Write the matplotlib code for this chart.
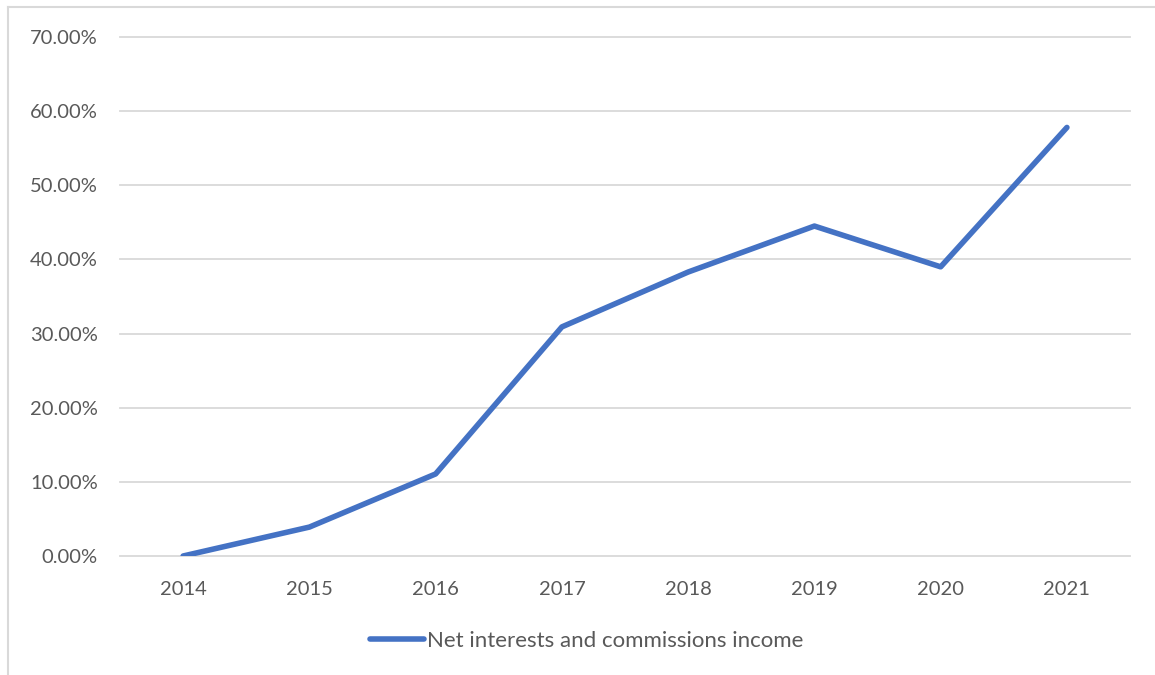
import matplotlib.pyplot as plt
from matplotlib.lines import Line2D
from matplotlib.ticker import FuncFormatter

years = ['2014', '2015', '2016', '2017', '2018', '2019', '2020', '2021']
income = [0.0, 3.9, 11.07, 30.9, 38.3, 44.5, 39.0, 57.8]
series_name = 'Net interests and commissions income'

plt.rcParams['font.family'] = ['Lato', 'DejaVu Sans']
txt = '#595959'
grid = '#d9d9d9'

fig = plt.figure(figsize=(11.55, 6.75), dpi=100)
ax = fig.add_axes([0.1039, 0.1763, 0.8745, 0.7689])

x = list(range(len(years)))
ax.plot(x, income, color='#4472C4', lw=4, solid_capstyle='round',
        solid_joinstyle='round', label=series_name, zorder=3)

ax.set_xlim(-0.5, len(years) - 0.5)
ax.set_ylim(0, 70)
ax.set_yticks(range(0, 71, 10))
ax.yaxis.set_major_formatter(FuncFormatter(lambda v, p: f'{v:.2f}%'))
ax.set_xticks(x)
ax.set_xticklabels(years)
ax.grid(axis='y', color=grid, lw=1.3)
for g in ax.get_ygridlines():
    g.set_clip_on(False)
ax.set_axisbelow(True)
for s in ax.spines.values():
    s.set_visible(False)
ax.tick_params(length=0, labelsize=14.5, colors=txt)
ax.tick_params(axis='y', pad=16)
ax.tick_params(axis='x', pad=18)

# legend
fig.legend(handles=[Line2D([], [], color='#4472C4', lw=4, solid_capstyle='round')],
           labels=[series_name], loc='center', bbox_to_anchor=(0.508, 0.05),
           frameon=False, fontsize=16, labelcolor=txt, handlelength=2.4,
           handletextpad=0.15)

# chart border (left/top visible)
fig.add_artist(Line2D([0.0065, 0.0065], [0, 0.99], color=grid, lw=1.5))
fig.add_artist(Line2D([0.0065, 1], [0.99, 0.99], color=grid, lw=1.5))

fig.savefig('out.png', dpi=100)
